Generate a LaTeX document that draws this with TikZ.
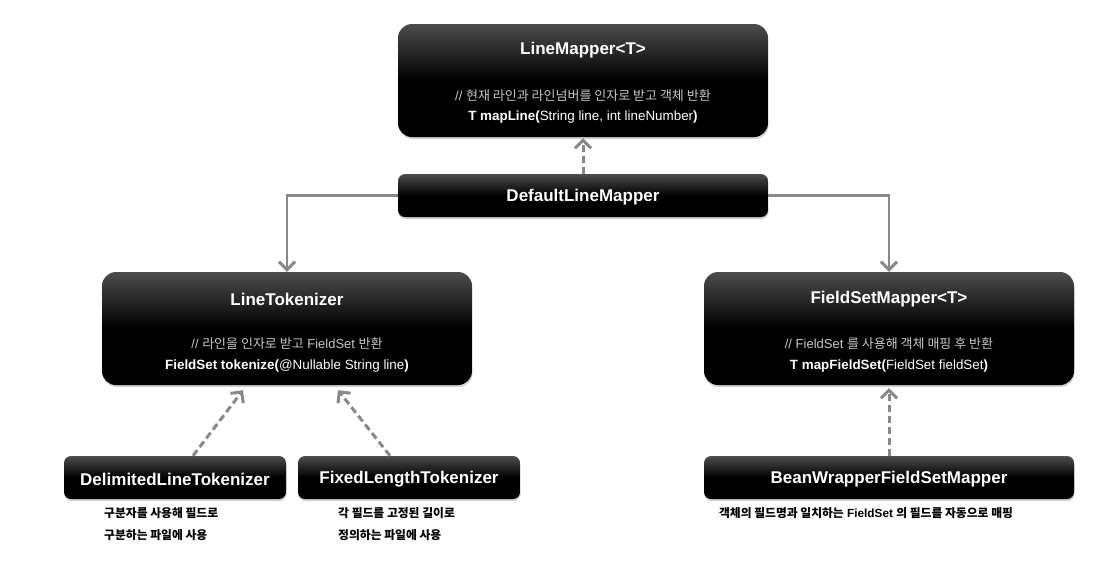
\documentclass[tikz,border=0pt]{standalone}
\usepackage{fontspec}
\setmainfont{Liberation Sans}
\newfontfamily\krfont{Noto Sans CJK KR}
\newcommand{\hk}[1]{{\krfont #1}}
\usetikzlibrary{arrows.meta,shadows}
\definecolor{conn}{HTML}{888888}
\definecolor{cmt}{HTML}{C8C8C8}
\begin{document}
\begin{tikzpicture}[x=1pt,y=-1pt,
  boxbase/.style={draw=none, top color=black!70, bottom color=black, middle color=black,
    drop shadow={opacity=0.35, shadow xshift=0.5pt, shadow yshift=-2pt}, inner sep=0pt},
  bigbox/.style={boxbase, rounded corners=14pt, minimum width=370pt, minimum height=113pt},
  smallbox/.style={boxbase, rounded corners=7pt, minimum height=43pt},
  title/.style={text=white, font=\fontsize{17}{19}\selectfont\bfseries, inner sep=0pt},
  cmttext/.style={text=cmt, font=\fontsize{13}{15}\selectfont, inner sep=0pt},
  methtext/.style={text=white, font=\fontsize{13.4}{15}\selectfont, inner sep=0pt},
  note/.style={text=black, font=\fontsize{11.8}{14}\selectfont\bfseries, inner sep=0pt, anchor=west},
  solidarr/.style={draw=conn, line width=2.2pt, -{Straight Barb[length=8pt,width=16pt,line width=3pt]}},
  dasharr/.style={draw=conn, line width=3pt, dash pattern=on 7pt off 4pt, -{Straight Barb[length=8pt,width=16pt,line width=3pt]}}
]
\useasboundingbox[fill=white] (0,0) rectangle (1116,571);

% boxes
\node[bigbox] (lm) at (583,80.5) {};
\node[smallbox, minimum width=370pt] (dlm) at (583,195.5) {};
\node[bigbox] (lt) at (287,328.5) {};
\node[bigbox] (fsm) at (889,328.5) {};
\node[smallbox, minimum width=222pt] (dlt) at (175,477.5) {};
\node[smallbox, minimum width=222pt] (flt) at (409,477.5) {};
\node[smallbox, minimum width=370pt] (bw) at (889,477.5) {};

% texts in boxes
\node[title] (lmtitle) at (583,50) {LineMapper<T>};
\node[cmttext] (lmcmt) at (583,96) {// \hk{현재 라인과 라인넘버를 인자로 받고 객체 반환}};
\node[methtext] (lmmeth) at (583,117) {\textbf{T mapLine(}String line, int lineNumber\textbf{)}};

\node[title] (dlmtitle) at (583,197) {DefaultLineMapper};

\node[title] (lttitle) at (287,299) {LineTokenizer};
\node[cmttext] (ltcmt) at (287,344) {// \hk{라인을 인자로 받고} FieldSet \hk{반환}};
\node[methtext] (ltmeth) at (287,366) {\textbf{FieldSet tokenize(}@Nullable String line\textbf{)}};

\node[title] (fsmtitle) at (889,299) {FieldSetMapper<T>};
\node[cmttext] (fsmcmt) at (889,344) {// FieldSet \hk{를 사용해 객체 매핑 후 반환}};
\node[methtext] (fsmmeth) at (889,366) {\textbf{T mapFieldSet(}FieldSet fieldSet\textbf{)}};

\node[title] (dlttitle) at (175,479) {DelimitedLineTokenizer};
\node[title] (flttitle) at (409,479) {FixedLengthTokenizer};
\node[title] (bwtitle) at (889,479) {BeanWrapperFieldSetMapper};

% notes
\node[note] (n1a) at (104,513) {\hk{구분자를 사용해 필드로}};
\node[note] (n1b) at (104,535) {\hk{구분하는 파일에 사용}};
\node[note] (n2a) at (338,513) {\hk{각 필드를 고정된 길이로}};
\node[note] (n2b) at (338,535) {\hk{정의하는 파일에 사용}};
\node[note, anchor=center] (n3) at (866,513) {\hk{객체의 필드명과 일치하는} FieldSet \hk{의 필드를 자동으로 매핑}};

% connectors
\draw[dasharr] (dlm.north) -- ([yshift=-1pt]lm.south);
\draw[solidarr] (dlm.west) -| (lt.north);
\draw[solidarr] (dlm.east) -| (fsm.north);
\draw[dasharr] ([xshift=18pt]dlt.north) -- ([xshift=-44pt,yshift=-5pt]lt.south);
\draw[dasharr] ([xshift=-19pt]flt.north) -- ([xshift=51pt,yshift=-5pt]lt.south);
\draw[dasharr] (bw.north) -- ([yshift=-3pt]fsm.south);
\end{tikzpicture}
\end{document}
